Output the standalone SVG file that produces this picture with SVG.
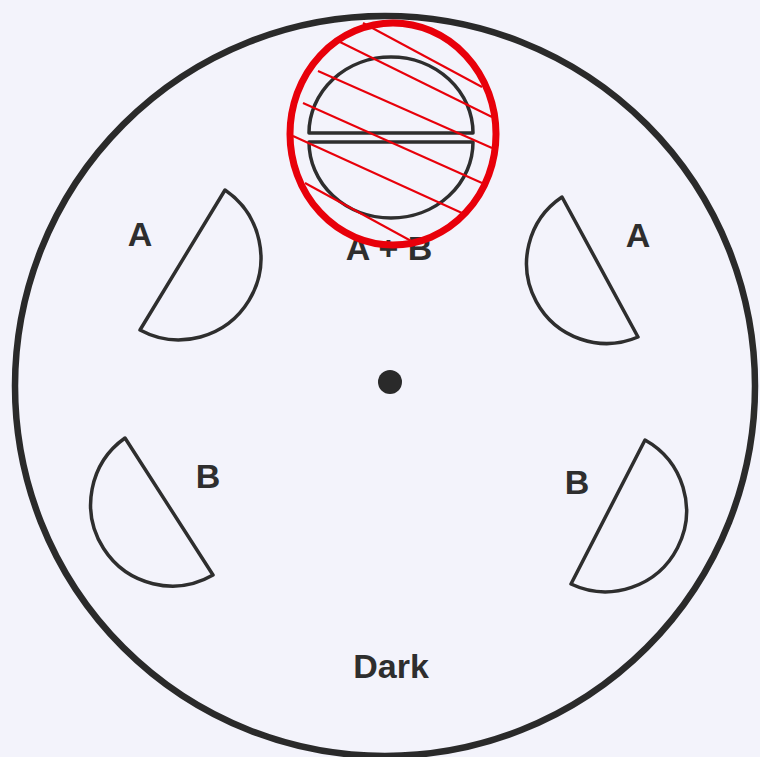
<svg xmlns="http://www.w3.org/2000/svg" width="760" height="757" viewBox="0 0 760 757">
  <style>
    .lbl { font-family: "Liberation Sans", Arial, sans-serif; font-weight: bold; font-size: 34px; fill: #2e2e2e; text-anchor: middle; }
    .d { fill: none; stroke: #2e2e2e; stroke-width: 3.5; stroke-linejoin: round; }
    .hatch { stroke: #e8000a; stroke-width: 2; }
  </style>
  <rect width="760" height="757" fill="#f3f3fb"/>
  <g id="disc">
    <circle cx="385" cy="386" r="370" fill="none" stroke="#2a2a2a" stroke-width="6.5"/>
    <circle cx="390" cy="382" r="12" fill="#2a2a2a"/>
  </g>
  <g id="sector-top-AB">
    <path class="d" d="M309,133 A82,76 0 0 1 473,133 Z"/>
    <path class="d" d="M309,142 A82,76 0 0 0 473,142 Z"/>
    <text class="lbl" x="389" y="260">A + B</text>
  </g>
  <g id="sector-left-A">
    <path class="d" d="M225,190 A82,82 0 0 1 140,330 Z"/>
    <text class="lbl" x="140" y="246">A</text>
  </g>
  <g id="sector-right-A">
    <path class="d" d="M562,197 A80,80 0 0 0 638,337 Z"/>
    <text class="lbl" x="638" y="247">A</text>
  </g>
  <g id="sector-left-B">
    <path class="d" d="M125,438 A81.5,81.5 0 0 0 213,575 Z"/>
    <text class="lbl" x="208" y="488">B</text>
  </g>
  <g id="sector-right-B">
    <path class="d" d="M645,440 A81,81 0 0 1 571,584 Z"/>
    <text class="lbl" x="577" y="494">B</text>
  </g>
  <g id="label-dark">
    <text class="lbl" x="391" y="678">Dark</text>
  </g>
  <g id="highlight">
    <line class="hatch" x1="363" y1="23" x2="482" y2="87"/>
    <line class="hatch" x1="340" y1="42" x2="492" y2="117"/>
    <line class="hatch" x1="318" y1="71" x2="492" y2="148"/>
    <line class="hatch" x1="303" y1="103" x2="482" y2="183"/>
    <line class="hatch" x1="293" y1="136" x2="462" y2="213"/>
    <line class="hatch" x1="305" y1="183" x2="413" y2="242"/>
    <ellipse cx="393" cy="134" rx="103" ry="111" fill="none" stroke="#e8000a" stroke-width="7"/>
  </g>
</svg>
